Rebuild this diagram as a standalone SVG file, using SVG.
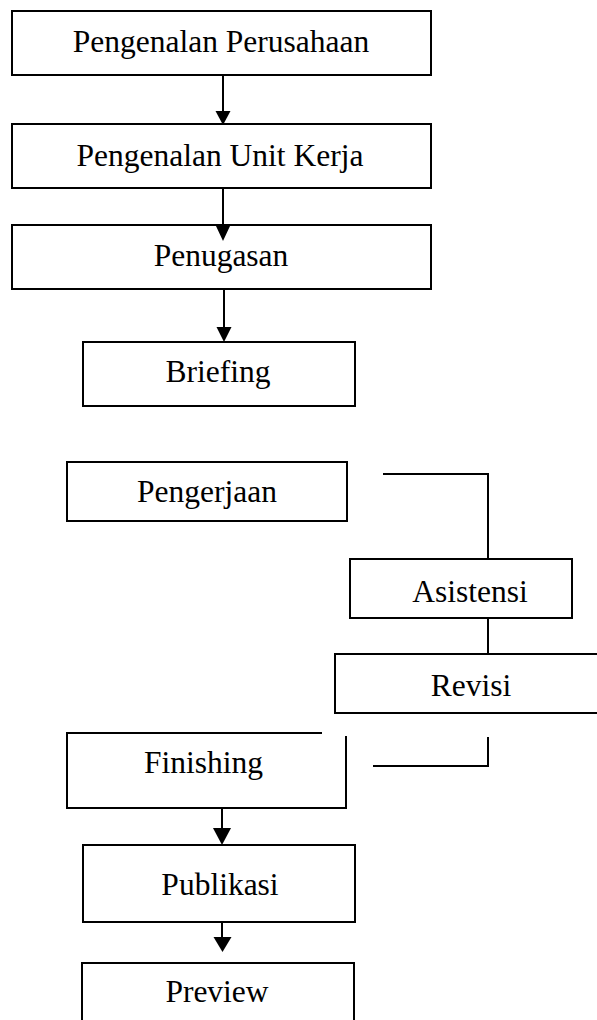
<svg xmlns="http://www.w3.org/2000/svg" width="597" height="1020" viewBox="0 0 597 1020">
<style>
.box{fill:none;stroke:#000;stroke-width:2}
.lbl{font-family:"Liberation Serif","Times New Roman",serif;font-size:31.5px;fill:#000;text-anchor:middle}
.ln{fill:none;stroke:#000;stroke-width:2}
.ah{fill:#000;stroke:none}
</style>
<rect width="597" height="1020" fill="#fff"/>
<g id="n1"><rect class="box" x="12" y="11" width="419" height="64"/><text class="lbl" x="221" y="52">Pengenalan Perusahaan</text></g>
<g id="n2"><rect class="box" x="12" y="124" width="419" height="64"/><text class="lbl" x="220" y="166">Pengenalan Unit Kerja</text></g>
<g id="n3"><rect class="box" x="12" y="225" width="419" height="64"/><text class="lbl" x="221" y="266">Penugasan</text></g>
<g id="n4"><rect class="box" x="83" y="342" width="272" height="64"/><text class="lbl" x="218" y="382">Briefing</text></g>
<g id="n5"><rect class="box" x="67" y="462" width="280" height="59"/><text class="lbl" x="207" y="502">Pengerjaan</text></g>
<g id="n6"><rect class="box" x="350" y="559" width="222" height="59"/><text class="lbl" x="470" y="602">Asistensi</text></g>
<g id="n7"><rect class="box" x="335" y="654" width="270" height="59"/><text class="lbl" x="471" y="696">Revisi</text></g>
<g id="n8"><path class="box" d="M322,733 H67 V808 H346 V736"/><text class="lbl" x="203.5" y="773">Finishing</text></g>
<g id="n9"><rect class="box" x="83" y="845" width="272" height="77"/><text class="lbl" x="220" y="895">Publikasi</text></g>
<g id="n10"><rect class="box" x="82" y="963" width="272" height="70"/><text class="lbl" x="217" y="1002">Preview</text></g>
<g id="connectors">
<line class="ln" x1="223" y1="75" x2="223" y2="114"/>
<polygon class="ah" points="215.5,111 230.5,111 223,125"/>
<line class="ln" x1="223" y1="188" x2="223" y2="228"/>
<polygon class="ah" points="216,226 230,226 223,241"/>
<line class="ln" x1="224" y1="289" x2="224" y2="330"/>
<polygon class="ah" points="216.5,327 231.5,327 224,342"/>
<polyline class="ln" points="383,474 488,474 488,559"/>
<line class="ln" x1="488" y1="618" x2="488" y2="654"/>
<polyline class="ln" points="488,737 488,766 373,766"/>
<line class="ln" x1="222" y1="808" x2="222" y2="830"/>
<polygon class="ah" points="213,828 231,828 222,845"/>
<line class="ln" x1="222" y1="922" x2="222" y2="939"/>
<polygon class="ah" points="213.5,937 231.5,937 222.5,952"/>
</g>
</svg>
